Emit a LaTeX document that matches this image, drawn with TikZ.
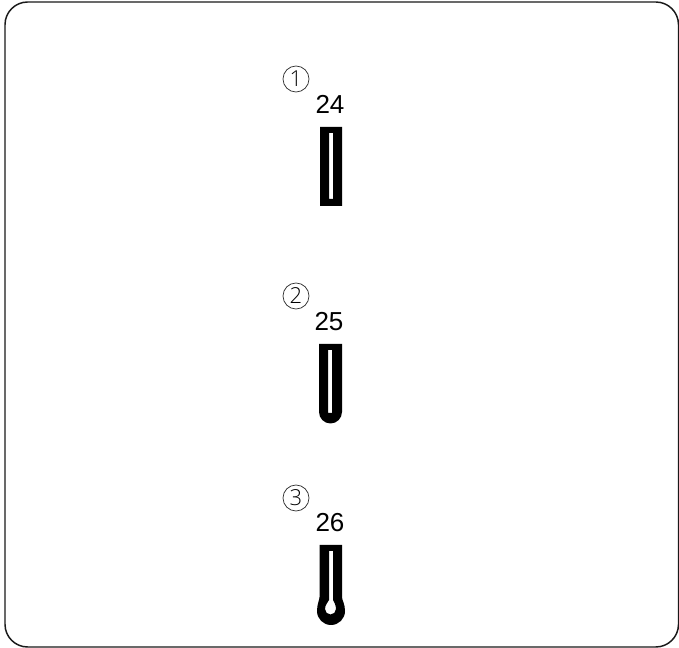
\documentclass[tikz,border=0pt]{standalone}
\usepackage{fontspec}
\setmainfont{Liberation Sans}
\newfontfamily\thinfont{Open Sans Light}
\tikzset{
  framebox/.style={draw=black!90,line width=1.1pt,rounded corners=17pt},
  numlabel/.style={inner sep=0pt,font=\fontsize{19.5pt}{19.5pt}\selectfont,text=black},
  circlabel/.style={circle,draw=black!80,line width=0.55pt,minimum size=19.5pt,inner sep=0pt,font=\thinfont\fontsize{16.5pt}{16.5pt}\selectfont,text=black},
  buttonhole/.style={fill=black,even odd rule}
}
\begin{document}
\begin{tikzpicture}[x=0.75pt,y=-0.75pt]
\useasboundingbox (0,0) rectangle (679,648);
\draw[framebox] (5,2) rectangle (678.5,647);
% 1
\node[circlabel] (c1) at (296,79) {1};
\node[numlabel] (n1) at (330,104) {24};
\path[buttonhole] (320,127) rectangle (342,206) (329,133) rectangle (333,199);
% 2
\node[circlabel] (c2) at (296,296) {2};
\node[numlabel] (n2) at (329,322) {25};
\path[buttonhole] (319,344) -- (342,344) -- (342,412) arc[start angle=0,end angle=180,x radius=11.5,y radius=11.5] -- cycle
  (328,350) rectangle (332,413);
% 3
\node[circlabel] (c3) at (296,498) {3};
\node[numlabel] (n3) at (330,523) {26};
\path[buttonhole] (319.5,545) -- (342,545) -- (342,597)
   .. controls (342,600) and (345,604) .. (345,611)
   arc[start angle=0,end angle=180,x radius=14,y radius=14]
   .. controls (317,604) and (319.5,600) .. (319.5,597) -- cycle
  (329,551) -- (333,551) -- (333,600) .. controls (334,602) and (336,605) .. (336,609)
   arc[start angle=0,end angle=180,x radius=5.5,y radius=5.5]
   .. controls (325,605) and (328,602) .. (329,600) -- cycle;
\end{tikzpicture}
\end{document}
